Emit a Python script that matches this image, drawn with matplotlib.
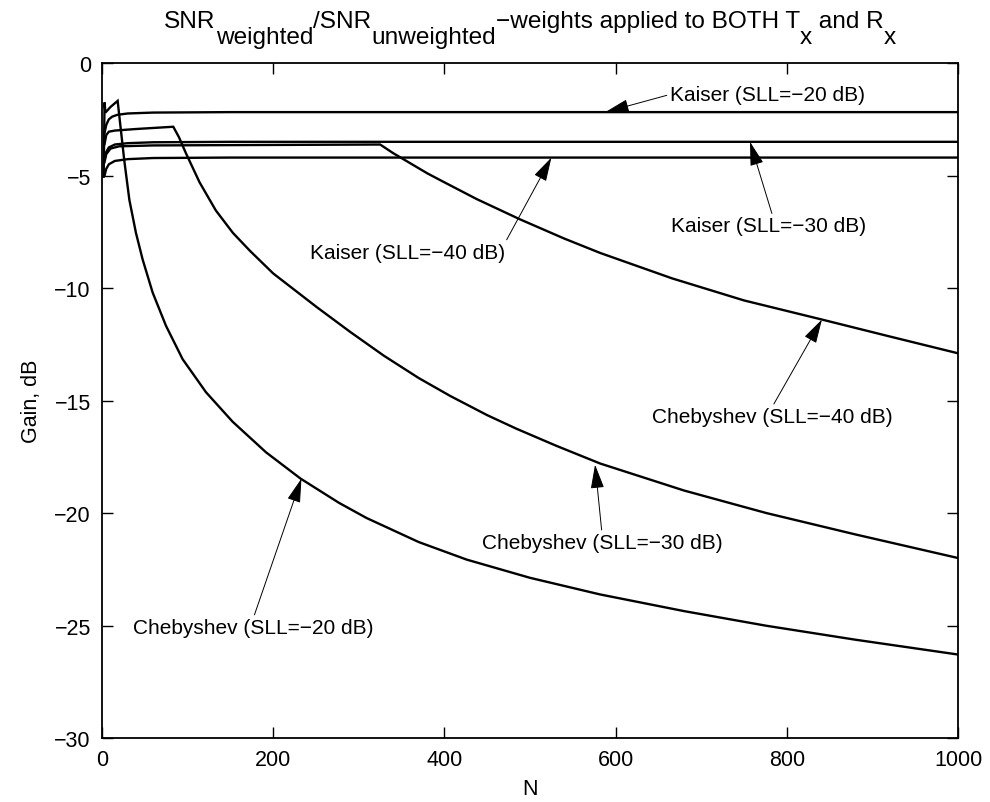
import numpy as np
from matplotlib import pyplot as plt

plt.rcParams['font.family'] = ['Liberation Sans', 'DejaVu Sans']


# Kaiser windows
n_k20 = [3, 5, 8, 12, 18, 30, 60, 150, 1000]
g_k20 = [-3.1, -2.75, -2.5, -2.38, -2.3, -2.24, -2.2, -2.18, -2.18]

n_k30 = [3, 5, 8, 15, 30, 60, 150, 1000]
g_k30 = [-4.3, -3.95, -3.75, -3.62, -3.56, -3.52, -3.5, -3.5]

n_k40 = [3, 5, 8, 15, 30, 60, 150, 1000]
g_k40 = [-5.0, -4.7, -4.5, -4.35, -4.27, -4.22, -4.2, -4.2]

# Chebyshev windows
n_c20 = [2, 3, 4, 10, 18.3, 26, 32, 39.7, 47.5, 59.2, 74.8, 94.2, 121.5, 152.6,
         191.6, 232, 277, 309, 370, 426, 500, 582, 680, 776, 880, 1000]
g_c20 = [-5.05, -1.75, -2.2, -1.95, -1.68, -4.31, -6.08, -7.55, -8.73, -10.2, -11.68,
         -13.16, -14.63, -15.94, -17.3, -18.47, -19.55, -20.22, -21.29, -22.07, -22.88,
         -23.62, -24.36, -25.01, -25.63, -26.29]

n_c30 = [3, 5, 8, 15, 40, 83.3, 90, 98, 114, 133, 153, 173, 200, 251, 290, 329, 370,
         407, 450, 484, 530, 582, 680, 776, 880, 1000]
g_c30 = [-3.6, -3.2, -3.05, -3.0, -2.93, -2.83, -3.3, -4.0, -5.3, -6.55, -7.55, -8.35,
         -9.35, -10.85, -11.95, -13.0, -14.0, -14.8, -15.65, -16.25, -17.0, -17.8,
         -19.0, -20.0, -20.95, -22.0]

n_c40 = [3, 5, 10, 20, 60, 325, 340, 360, 380, 400, 438, 488, 540, 582, 666, 750,
         841, 920, 1000]
g_c40 = [-4.4, -4.05, -3.8, -3.7, -3.66, -3.62, -4.0, -4.45, -4.9, -5.3, -6.05, -6.94,
         -7.8, -8.44, -9.57, -10.55, -11.4, -12.15, -12.9]

x_ticks = [0, 200, 400, 600, 800, 1000]
y_ticks = [-30, -25, -20, -15, -10, -5, 0]

# title pieces: (text, is_subscript)
title_parts = [('SNR', False), ('weighted', True), ('/SNR', False), ('unweighted', True),
               ('\u2212weights applied to BOTH T', False), ('x', True),
               (' and R', False), ('x', True)]


def draw_title(fig, parts, xc, y_base, fs, sub_drop):
    # MATLAB-like title where subscripts keep the full font size
    r = fig.canvas.get_renderer()
    texts = []
    for s, sub in parts:
        texts.append(fig.text(0, y_base - (sub_drop if sub else 0), s,
                              fontsize=fs, va='baseline', ha='left'))
    widths = [t.get_window_extent(r).width / fig.bbox.width for t in texts]
    x = xc - sum(widths) / 2
    for t, w in zip(texts, widths):
        t.set_x(x)
        x += w


def plot_gain(fname=None):

    fig = plt.figure(figsize=(9.9, 8.03), dpi=100)
    ax = fig.add_axes([0.103, 0.0797, 0.8647, 0.8405])

    for n, g in [(n_k20, g_k20), (n_k30, g_k30), (n_k40, g_k40),
                 (n_c20, g_c20), (n_c30, g_c30), (n_c40, g_c40)]:
        ax.plot(n, g, color='k', lw=1.7, solid_joinstyle='miter')

    # labels with arrows
    arrow = dict(arrowstyle='-|>,head_length=1.0,head_width=0.28', color='k',
                 lw=0.7, shrinkA=0, shrinkB=0, mutation_scale=15)
    fs_note = 15
    ax.annotate('Kaiser (SLL=\u221220 dB)', xy=(588, -2.18), xytext=(663, -1.4),
                ha='left', va='center', fontsize=fs_note,
                arrowprops=dict(arrow, relpos=(0, 0.5)))
    ax.annotate('Kaiser (SLL=\u221230 dB)', xy=(757, -3.5), xytext=(779, -7.23),
                ha='center', va='center', fontsize=fs_note,
                arrowprops=dict(arrow, relpos=(0.52, 1.0)))
    ax.annotate('Kaiser (SLL=\u221240 dB)', xy=(525, -4.2), xytext=(357, -8.4),
                ha='center', va='center', fontsize=fs_note,
                arrowprops=dict(arrow, relpos=(1.0, 1.0)))
    ax.annotate('Chebyshev (SLL=\u221240 dB)', xy=(841, -11.4), xytext=(783, -15.7),
                ha='center', va='center', fontsize=fs_note,
                arrowprops=dict(arrow, relpos=(0.5, 1.0)))
    ax.annotate('Chebyshev (SLL=\u221230 dB)', xy=(576, -17.85), xytext=(584, -21.3),
                ha='center', va='center', fontsize=fs_note,
                arrowprops=dict(arrow, relpos=(0.5, 1.0)))
    ax.annotate('Chebyshev (SLL=\u221220 dB)', xy=(233, -18.47), xytext=(177, -25.07),
                ha='center', va='center', fontsize=fs_note,
                arrowprops=dict(arrow, relpos=(0.5, 1.0)))

    # formatting
    fs = 15.5
    ax.set_xlim(0, 1000)
    ax.set_ylim(-30, 0)
    ax.set_xticks(x_ticks)
    ax.set_yticks(y_ticks)
    ax.set_xlabel('N', fontsize=fs, labelpad=6)
    ax.set_ylabel('Gain, dB', fontsize=fs, labelpad=9)
    ax.tick_params(axis='both', direction='in', length=8, width=1,
                   top=True, right=True, labelsize=fs, pad=8)
    for s in ax.spines.values():
        s.set_linewidth(1.3)

    draw_title(fig, title_parts, 0.5354, 1 - 28 / 803, 17.6, 16 / 803)

    if fname is not None:
        plt.savefig(fname, dpi=100)


plot_gain(fname='out.png')
